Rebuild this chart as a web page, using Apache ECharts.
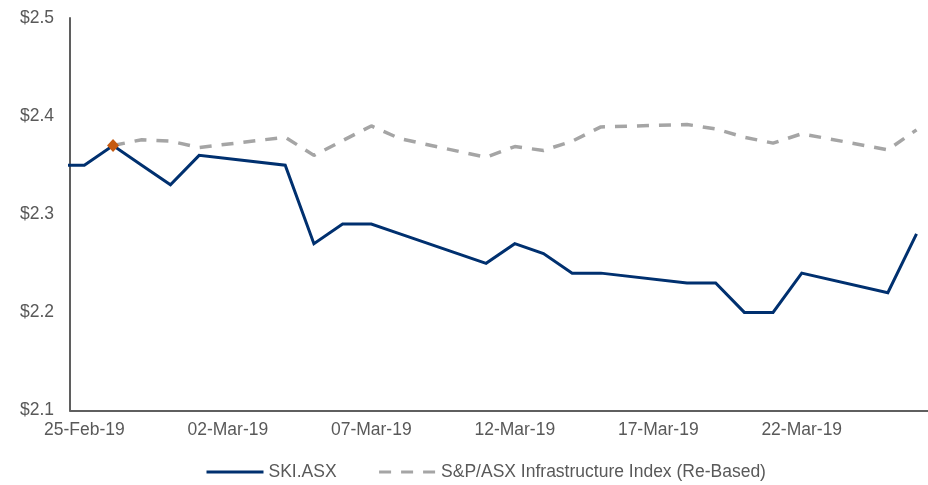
<!DOCTYPE html>
<html>
<head>
<meta charset="utf-8">
<title>SKI.ASX vs S&amp;P/ASX Infrastructure Index</title>
<script src="https://cdn.jsdelivr.net/npm/echarts@6/dist/echarts.min.js"></script>
<style>
  html, body { margin: 0; padding: 0; background: #fff; }
  #chart { width: 928px; height: 485px; }
</style>
</head>
<body>
<div id="chart"></div>
<script>
// trading days (22-Feb sits left of the axis and gets clipped)
const dates = ['2019-02-22', '2019-02-25', '2019-02-26', '2019-02-27', '2019-02-28', '2019-03-01',
  '2019-03-04', '2019-03-05', '2019-03-06', '2019-03-07', '2019-03-08',
  '2019-03-11', '2019-03-12', '2019-03-13', '2019-03-14', '2019-03-15',
  '2019-03-18', '2019-03-19', '2019-03-20', '2019-03-21', '2019-03-22',
  '2019-03-25', '2019-03-26']
const skiPrices = [2.35, 2.35, 2.37, 2.35, 2.33, 2.36,
  2.35, 2.27, 2.29, 2.29, 2.28,
  2.25, 2.27, 2.26, 2.24, 2.24,
  2.23, 2.23, 2.20, 2.20, 2.24,
  2.22, 2.28]
const indexRebased = [null, null, 2.37, 2.376, 2.3745, 2.368,
  2.3785, 2.360, 2.375, 2.390, 2.377,
  2.358, 2.369, 2.365, 2.3745, 2.389,
  2.3915, 2.387, 2.3785, 2.3725, 2.382,
  2.3657, 2.386]
const rebaseDate = '2019-02-26'
const rebaseValue = 2.37
const tickDates = ['2019-02-25', '2019-03-02', '2019-03-07', '2019-03-12', '2019-03-17', '2019-03-22']
const yTicks = [2.1, 2.2, 2.3, 2.4, 2.5]
const seriesNames = ['SKI.ASX', 'S&P/ASX Infrastructure Index (Re-Based)']

const DAY = 86400000
const MONTHS = ['Jan', 'Feb', 'Mar', 'Apr', 'May', 'Jun', 'Jul', 'Aug', 'Sep', 'Oct', 'Nov', 'Dec']
// each day plotted at its middle, like Excel's date axis
function ts(d) {
    return Date.parse(d) + DAY / 2
}
function fmtDate(v) {
    let d = new Date(v)
    let dd = String(d.getUTCDate()).padStart(2, '0')
    let yy = String(d.getUTCFullYear()).slice(2)
    return dd + '-' + MONTHS[d.getUTCMonth()] + '-' + yy
}
function pairs(values) {
    let out = []
    dates.forEach((d, i) => {
        if (values[i] != null) out.push([ts(d), values[i]])
    })
    return out
}

const font = 'Liberation Sans, Arial, sans-serif'
const axisGrey = '#5f5f5f'
const textGrey = '#595959'

let myChart = echarts.init(document.getElementById('chart'), null, {renderer: 'canvas'})
let option = {
    animation: false,
    textStyle: {fontFamily: font},
    grid: {left: 70, right: 0, top: 18, bottom: 74.5, containLabel: false},
    legend: {
        data: seriesNames,
        left: 200,
        top: 458,
        itemWidth: 57,
        itemHeight: 18,
        itemGap: 41,
        itemStyle: {opacity: 0},  // line only, no symbol in the key
        lineStyle: {width: 3},
        textStyle: {fontSize: 17.5, color: textGrey, fontFamily: font}
    },
    xAxis: {
        type: 'value',
        min: Date.parse('2019-02-25'),
        max: Date.UTC(2019, 2, 26, 21, 36),
        axisLine: {show: true, lineStyle: {color: axisGrey, width: 2}},
        axisTick: {show: false},
        splitLine: {show: false},
        axisLabel: {
            customValues: tickDates.map(ts),
            formatter: fmtDate,
            margin: 11,
            fontSize: 17.5,
            color: textGrey,
            fontFamily: font
        }
    },
    yAxis: {
        type: 'value',
        min: yTicks[0],
        max: yTicks[yTicks.length - 1],
        interval: 0.1,
        axisLine: {show: true, lineStyle: {color: axisGrey, width: 2}},
        axisTick: {show: false},
        splitLine: {show: false},
        axisLabel: {
            formatter: v => '$' + v.toFixed(1),
            margin: 16,
            fontSize: 17.5,
            color: textGrey,
            fontFamily: font
        }
    },
    series: [
        {
            name: seriesNames[0],
            type: 'line',
            data: pairs(skiPrices),
            symbol: 'none',
            clip: true,
            z: 3,
            lineStyle: {color: '#00306f', width: 3, join: 'miter'},
            itemStyle: {color: '#00306f'}
        },
        {
            name: seriesNames[1],
            type: 'line',
            data: pairs(indexRebased),
            symbol: 'none',
            clip: true,
            z: 2,
            lineStyle: {color: '#a5a5a5', width: 3.5, type: [12, 10]},
            itemStyle: {color: '#a5a5a5'}
        },
        {
            name: 'Re-base',
            type: 'scatter',
            data: [[ts(rebaseDate), rebaseValue]],
            symbol: 'diamond',
            symbolSize: [12, 13],
            z: 5,
            itemStyle: {color: '#c55a11', opacity: 1}
        }
    ]
};
myChart.setOption(option);
</script>
</body>
</html>
